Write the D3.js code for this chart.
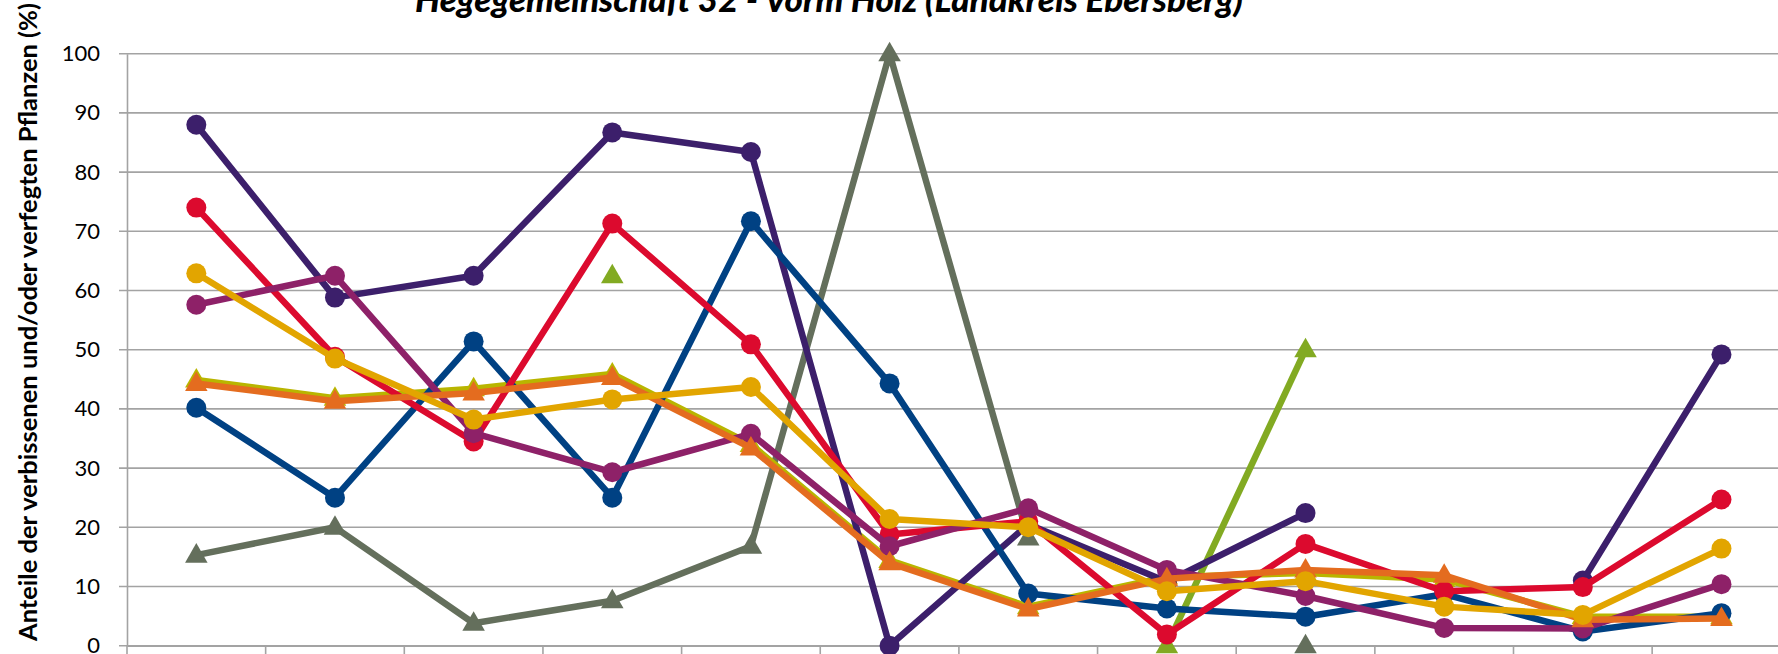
<!DOCTYPE html>
<html>
<head>
<meta charset="utf-8">
<script src="https://cdn.jsdelivr.net/npm/d3@7"></script>
<style>
  html, body { margin: 0; padding: 0; background: #fff; overflow: hidden; }
  svg { display: block; font-family: Lato, "Open Sans", sans-serif; }
</style>
</head>
<body>
<svg id="chart"></svg>
<script>
// Aufnahmejahre (the category labels lie below the visible area, so only ticks are drawn)
const years = ["1991", "1994", "1997", "2000", "2003", "2006", "2009", "2012", "2015", "2018", "2021", "2024"];
const yTicks = [0, 10, 20, 30, 40, 50, 60, 70, 80, 90, 100];

// Anteile in %, null = keine Aufnahme
const darkPurple = [88, 58.8, 62.5, 86.7, 83.4, 0, 20.5, 10.8, 22.4, null, 11, 49.2];
const red        = [74, 48.8, 34.5, 71.3, 50.9, 18.8, 21, 1.9, 17.2, 9.2, 9.9, 24.7];
const navy       = [40.2, 25, 51.4, 25, 71.7, 44.3, 8.8, 6.3, 4.9, 8.7, 2.4, 5.5];
const magenta    = [57.6, 62.5, 35.9, 29.3, 35.8, 16.8, 23.2, 12.8, 8.4, 3.0, 2.9, 10.4];
const gold       = [62.9, 48.5, 38.2, 41.6, 43.7, 21.4, 20.0, 9.2, 10.9, 6.6, 5.2, 16.4];
const orange     = [44.3, 41.3, 42.7, 45.3, 33.4, 14.0, 6.2, 11.3, 12.8, 11.9, 4.4, 4.6];
const olive      = [44.9, 41.8, 43.4, 45.9, 34.0, 14.4, 6.6, 11.6, 12.3, 11.2, 4.9, 4.9];
const lime       = [null, null, null, 62.5, null, null, null, 0, 50, null, null, null];
const gray       = [15.3, 20, 3.8, 7.6, 16.8, 100, 18.2, null, 0, null, null, null];

const series = [
  {name: "gray", values: gray, color: "#646F5C", marker: "triangle"},
  {name: "lime", values: lime, color: "#82AA22", marker: "triangle"},
  {name: "olive", values: olive, color: "#B9B500", marker: "triangle"},
  {name: "darkPurple", values: darkPurple, color: "#3C1F6B", marker: "circle"},
  {name: "navy", values: navy, color: "#004183", marker: "circle"},
  {name: "red", values: red, color: "#DC0A2E", marker: "circle"},
  {name: "magenta", values: magenta, color: "#8E2168", marker: "circle"},
  {name: "orange", values: orange, color: "#E46C1F", marker: "triangle"},
  {name: "gold", values: gold, color: "#E2A500", marker: "circle"}
];

const width = 1778, height = 654;
const plot = {left: 127, top: 53.7, bottom: 645.7, right: 127 + 12 * 138.65};

const svg = d3.select("#chart")
    .attr("width", width)
    .attr("height", height);

const x = d3.scaleBand()
    .domain(years)
    .range([plot.left, plot.right]);

const y = d3.scaleLinear()
    .domain([0, 100])
    .range([plot.bottom, plot.top]);

// gridlines
svg.append("g")
    .selectAll("line")
    .data(yTicks)
    .enter().append("line")
    .attr("x1", plot.left - 8)
    .attr("x2", plot.right)
    .attr("y1", d => y(d))
    .attr("y2", d => y(d))
    .style("stroke", "#A3A3A3")
    .style("stroke-width", 1.6);

// y axis
const yAxis = svg.append("g")
    .attr("transform", `translate(${plot.left},0)`)
    .call(d3.axisLeft(y).tickValues(yTicks).tickSize(0).tickPadding(27));
yAxis.select(".domain").style("stroke", "#A3A3A3").style("stroke-width", 1.6);
yAxis.selectAll("text")
    .style("font-family", "Lato, sans-serif")
    .style("font-size", "22px")
    .style("fill", "#000");

// x axis: only the category ticks are visible in the picture
const xAxis = svg.append("g")
    .attr("transform", `translate(0,${plot.bottom})`)
    .call(d3.axisBottom(x).tickSize(0).tickFormat(""));
xAxis.select(".domain").style("stroke", "#A3A3A3").style("stroke-width", 1.6);
xAxis.selectAll(".tick").remove();
xAxis.selectAll(".cat-tick")
    .data(years)
    .enter().append("line")
    .attr("class", "cat-tick")
    .attr("x1", d => x(d))
    .attr("x2", d => x(d))
    .attr("y1", 0)
    .attr("y2", 9)
    .style("stroke", "#A3A3A3")
    .style("stroke-width", 1.6);

// lines and markers
const line = d3.line()
    .defined(d => d.v != null)
    .x(d => x(d.year) + x.bandwidth() / 2)
    .y(d => y(d.v));

const triangle = d3.symbol().type(d3.symbolTriangle).size(220);

series.forEach(s => {
  const pts = s.values.map((v, i) => ({year: years[i], v: v}));
  const g = svg.append("g").attr("class", "series " + s.name);

  g.append("path")
      .datum(pts)
      .attr("d", line)
      .style("fill", "none")
      .style("stroke", s.color)
      .style("stroke-width", 6.5)
      .style("stroke-linejoin", "round");

  const shown = pts.filter(d => d.v != null);
  if (s.marker === "circle") {
    g.selectAll(".mark")
        .data(shown)
        .enter().append("circle")
        .attr("class", "mark")
        .attr("cx", d => x(d.year) + x.bandwidth() / 2)
        .attr("cy", d => y(d.v))
        .attr("r", 10)
        .style("fill", s.color);
  } else {
    g.selectAll(".mark")
        .data(shown)
        .enter().append("path")
        .attr("class", "mark")
        .attr("d", triangle)
        .attr("transform", d => `translate(${x(d.year) + x.bandwidth() / 2},${y(d.v) + 1})`)
        .style("fill", s.color);
  }
});

// titles
svg.append("text")
    .attr("x", 829)
    .attr("y", 12)
    .attr("text-anchor", "middle")
    .style("font-family", "Lato, sans-serif")
    .style("font-size", "35px")
    .style("font-weight", "900")
    .style("font-style", "italic")
    .text("Hegegemeinschaft 32 - Vorm Holz (Landkreis Ebersberg)");

svg.append("text")
    .attr("transform", "translate(37,322) rotate(-90)")
    .attr("text-anchor", "middle")
    .style("font-family", "Lato, sans-serif")
    .style("font-size", "25.5px")
    .style("font-weight", "bold")
    .text("Anteile der verbissenen und/oder verfegten Pflanzen (%)");
</script>
</body>
</html>
